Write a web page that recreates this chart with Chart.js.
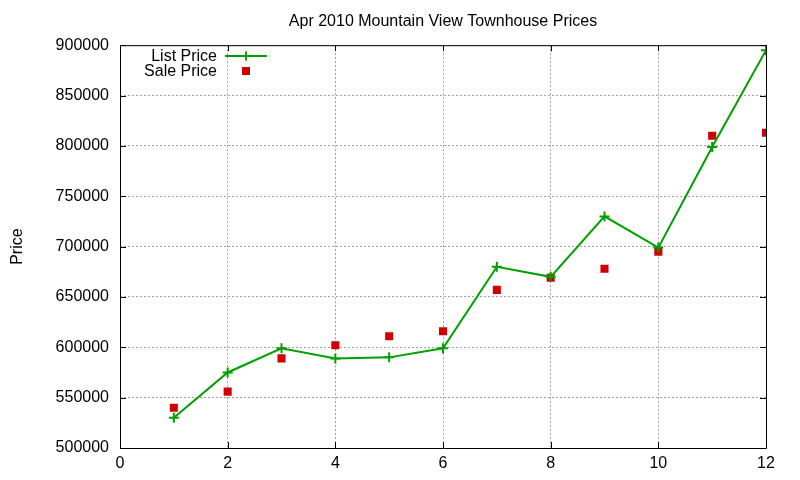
<!DOCTYPE html>
<html>
<head>
<meta charset="utf-8">
<script src="https://cdn.jsdelivr.net/npm/chart.js@4/dist/chart.umd.min.js"></script>
<style>
  html, body { margin: 0; padding: 0; background: #fff; }
  #wrap { width: 800px; height: 480px; }
</style>
</head>
<body>
<div id="wrap"><canvas id="chart" width="800" height="480"></canvas></div>
<script>
const months = [1, 2, 3, 4, 5, 6, 7, 8, 9, 10, 11, 12]
const listPrice = [530000, 575000, 599000, 589000, 590000, 599000, 680000, 670000, 730000, 699000, 799000, 895000]
const salePrice = [540000, 556000, 589000, 602000, 611000, 616000, 657000, 669000, 678000, 695000, 810000, 813000]
const xTicks = [0, 2, 4, 6, 8, 10, 12]
const yTicks = [500000, 550000, 600000, 650000, 700000, 750000, 800000, 850000, 900000]

const GREEN = '#00a000'
const RED = '#d00000'
const FONT = { family: '"Liberation Sans", Arial, sans-serif', size: 16 }

const toPoints = vals => months.map((m, i) => ({ x: m, y: vals[i] }))

// gnuplot style frame: black border with inward ticks on all four sides
const frame = {
  id: 'frame',
  afterDraw(chart) {
    const { ctx, chartArea: a, scales } = chart
    ctx.save()
    ctx.strokeStyle = '#000'
    ctx.lineWidth = 1
    ctx.beginPath()
    ctx.rect(a.left + 0.5, a.top + 0.5, a.right - a.left, a.bottom - a.top)
    const len = 6
    xTicks.forEach(v => {
      const x = Math.round(scales.x.getPixelForValue(v)) + 0.5
      ctx.moveTo(x, a.bottom); ctx.lineTo(x, a.bottom - len)
      ctx.moveTo(x, a.top); ctx.lineTo(x, a.top + len)
    })
    yTicks.forEach(v => {
      const y = Math.round(scales.y.getPixelForValue(v)) + 0.5
      ctx.moveTo(a.left, y); ctx.lineTo(a.left + len, y)
      ctx.moveTo(a.right, y); ctx.lineTo(a.right - len, y)
    })
    ctx.stroke()
    ctx.restore()
  }
}

// key drawn inside the plot, top left, text right-aligned
const key = {
  id: 'key',
  afterDraw(chart) {
    const { ctx } = chart
    ctx.save()
    ctx.font = '16px "Liberation Sans", Arial, sans-serif'
    ctx.fillStyle = '#000'
    ctx.textAlign = 'right'
    ctx.textBaseline = 'middle'
    ctx.fillText('List Price', 217, 57)
    ctx.fillText('Sale Price', 217, 72)
    ctx.strokeStyle = GREEN
    ctx.lineWidth = 2
    ctx.beginPath()
    ctx.moveTo(225, 56); ctx.lineTo(267, 56)
    ctx.moveTo(246, 51.5); ctx.lineTo(246, 60.5)
    ctx.stroke()
    ctx.fillStyle = RED
    ctx.fillRect(242, 67, 8, 8)
    ctx.restore()
  }
}

new Chart(document.getElementById('chart'), {
  type: 'scatter',
  data: {
    datasets: [{
      label: 'List Price',
      data: toPoints(listPrice),
      showLine: true,
      borderColor: GREEN,
      backgroundColor: GREEN,
      borderWidth: 2,
      pointStyle: 'cross',
      pointRadius: 5,
      pointBorderWidth: 2,
      tension: 0
    }, {
      label: 'Sale Price',
      data: toPoints(salePrice),
      showLine: false,
      borderColor: RED,
      backgroundColor: RED,
      borderWidth: 0,
      pointStyle: 'rect',
      pointRadius: 5.7
    }]
  },
  options: {
    responsive: false,
    animation: false,
    layout: { padding: { left: 0, right: 34, top: 0, bottom: 0 } },
    plugins: {
      legend: { display: false },
      tooltip: { enabled: false },
      title: {
        display: true,
        fullSize: false,
        text: 'Apr 2010 Mountain View Townhouse Prices',
        color: '#000',
        font: { ...FONT, weight: 'normal' },
        padding: { top: 12, bottom: 14 }
      }
    },
    scales: {
      x: {
        type: 'linear',
        min: 0,
        max: 12,
        afterFit: s => { s.height = 32 },
        afterBuildTicks: s => { s.ticks = xTicks.map(v => ({ value: v })) },
        border: { display: false, dash: [2, 2] },
        grid: { color: '#a0a0a0', drawTicks: false, lineWidth: 1 },
        ticks: { color: '#000', font: FONT, padding: 6, callback: v => String(v) }
      },
      y: {
        type: 'linear',
        min: 500000,
        max: 900000,
        afterFit: s => { s.width = 120 },
        afterBuildTicks: s => { s.ticks = yTicks.map(v => ({ value: v })) },
        border: { display: false, dash: [2, 2] },
        grid: { color: '#a0a0a0', drawTicks: false, lineWidth: 1 },
        ticks: { color: '#000', font: FONT, padding: 11, callback: v => String(v) },
        title: { display: true, text: 'Price', color: '#000', font: FONT, padding: { top: 8, bottom: 0 } }
      }
    }
  },
  plugins: [frame, key]
})
</script>
</body>
</html>
